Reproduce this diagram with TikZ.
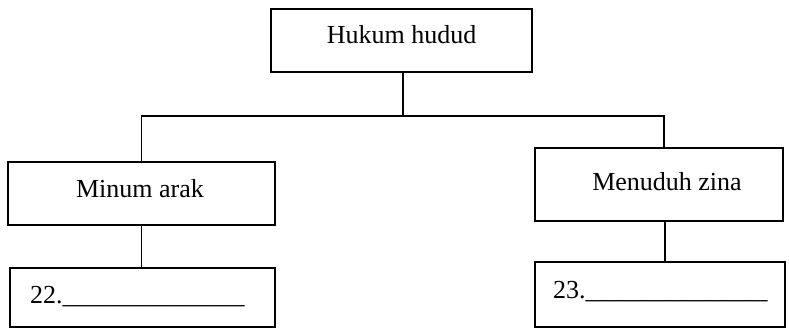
\documentclass[tikz,border=0pt]{standalone}
\usepackage{fontspec}
\setmainfont{Liberation Serif}
\begin{document}
\begin{tikzpicture}[x=1pt,y=-1pt,
  box/.style={draw=black, line width=1.3pt, rectangle, inner sep=0pt},
  conn/.style={draw=black, line width=1.3pt},
  txt/.style={inner sep=0pt, font=\fontsize{26}{30}\selectfont}]
\useasboundingbox (0,0) rectangle (789,330);
% boxes
\node[box, minimum width=261pt, minimum height=63pt] (top) at (401.5,40.5) {};
\node[box, minimum width=267pt, minimum height=63pt] (left) at (141.5,193.5) {};
\node[box, minimum width=248pt, minimum height=73pt] (right) at (659,184.5) {};
\node[box, minimum width=265pt, minimum height=59pt] (ans1) at (142.5,297.5) {};
\node[box, minimum width=250pt, minimum height=65pt] (ans2) at (660,294.5) {};
% texts
\node[txt, anchor=base] (ttop) at (401.5,43) {Hukum hudud};
\node[txt, anchor=base] (tleft) at (140,197) {Minum arak};
\node[txt, anchor=base] (tright) at (667,190) {Menuduh zina};
\node[txt, anchor=base west] (t22) at (30,303) {22.\_\_\_\_\_\_\_\_\_\_\_\_\_\_};
\node[txt, anchor=base west] (t23) at (553,298) {23.\_\_\_\_\_\_\_\_\_\_\_\_\_\_};
% connectors
\coordinate (bar) at (403,116);
\draw[conn] (top.south -| bar) -- (bar);
\draw[conn] (left.north) |- (bar) -| (right.north -| 664,0);
\draw[conn] (left.south) -- (left.south |- ans1.north);
\draw[conn] (right.south -| 665,0) -- (ans2.north -| 665,0);
\end{tikzpicture}
\end{document}
